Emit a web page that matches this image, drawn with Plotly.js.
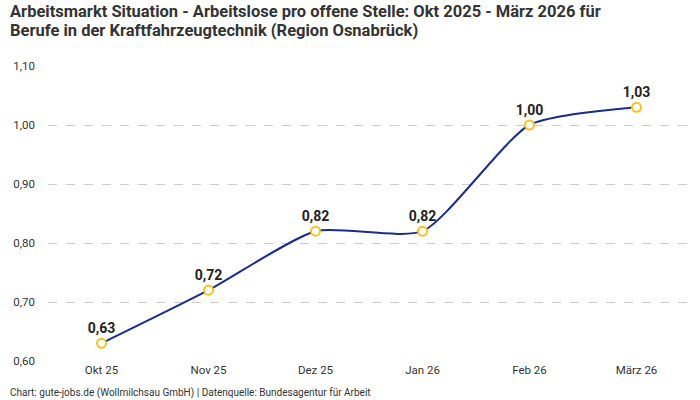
<!DOCTYPE html>
<html>
<head>
<meta charset="utf-8">
<script src="https://cdn.plot.ly/plotly-3.0.1.min.js"></script>
<style>
body { margin: 0; background: #fff; }
#plotDiv { width: 700px; height: 400px; }
</style>
</head>
<body>
<div id="plotDiv"></div>
<script>
const months = ['Okt 25', 'Nov 25', 'Dez 25', 'Jan 26', 'Feb 26', 'März 26']
const ratio = [0.63, 0.72, 0.82, 0.82, 1.00, 1.03]
const yTicks = [0.6, 0.7, 0.8, 0.9, 1.0, 1.1]
const titleLines = [
	'Arbeitsmarkt Situation - Arbeitslose pro offene Stelle: Okt 2025 - März 2026 für',
	'Berufe in der Kraftfahrzeugtechnik (Region Osnabrück)'
]

const fmt = v => v.toFixed(2).replace('.', ',')

const trace = {
	x: months,
	y: ratio,
	type: 'scatter',
	mode: 'lines+markers+text',
	line: {color: '#1c2c8c', width: 2, shape: 'spline', smoothing: 0.6},
	marker: {size: 9, color: '#ffffff', line: {color: '#f7c21b', width: 2}},
	text: ratio.map(fmt),
	textposition: 'top center',
	textfont: {family: 'Roboto, sans-serif', size: 14, color: '#222', weight: 700},
	cliponaxis: false,
	hoverinfo: 'skip'
}

// title lines placed separately to keep them close together
const titleNotes = titleLines.map((t, i) => ({
	text: '<b>' + t + '</b>',
	xref: 'paper', yref: 'paper', x: -0.0625, y: [1.186, 1.119][i],
	xanchor: 'left', yanchor: 'middle', showarrow: false,
	font: {size: 16.5, color: '#333'}
}))

const layout = {
	width: 700,
	height: 400,
	margin: {l: 48, r: 10, t: 66, b: 39},
	paper_bgcolor: '#fff',
	plot_bgcolor: '#fff',
	font: {family: 'Roboto, sans-serif', color: '#333'},
	xaxis: {
		type: 'category',
		range: [-0.5, 5.5],
		showgrid: false, zeroline: false, showline: false,
		ticks: '', tickfont: {size: 11.5, color: '#333'},
		fixedrange: true
	},
	yaxis: {
		range: [0.6, 1.1],
		tickvals: yTicks,
		ticktext: yTicks.map(fmt),
		showgrid: true, gridcolor: '#cccccc', griddash: 'dash', gridwidth: 1,
		zeroline: false, showline: false,
		ticks: '', ticklabelstandoff: 12,
		tickfont: {size: 11.5, color: '#333'},
		fixedrange: true
	},
	showlegend: false,
	annotations: titleNotes.concat([{
		text: 'Chart: gute-jobs.de (Wollmilchsau GmbH) | Datenquelle: Bundesagentur für Arbeit',
		xref: 'paper', yref: 'paper', x: -0.0625, y: -0.108,
		xanchor: 'left', yanchor: 'middle', showarrow: false,
		font: {size: 10, color: '#333'}
	}])
}

Plotly.newPlot('plotDiv', [trace], layout, {displayModeBar: false, staticPlot: true})
</script>
</body>
</html>
